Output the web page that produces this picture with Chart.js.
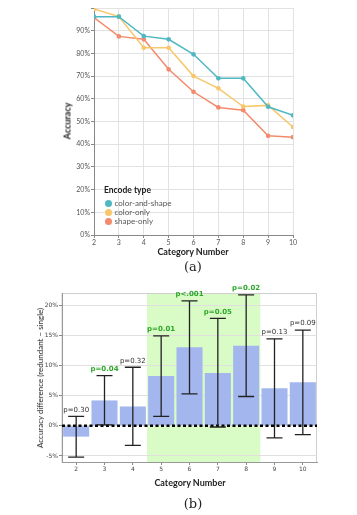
<!DOCTYPE html>
<html>
<head>
<meta charset="utf-8">
<script src="https://cdn.jsdelivr.net/npm/chart.js@4"></script>
<style>
  html, body { margin: 0; padding: 0; background: #fff; }
  #wrap { position: relative; width: 357px; height: 515px; overflow: hidden; }
  canvas { position: absolute; left: 0; }
  .t { position: absolute; white-space: nowrap; font-family: Lato, "Noto Sans", sans-serif; color: #222; }
  .bold { font-weight: bold; }
  .rot { transform: translate(-50%, -50%) rotate(-90deg); }
  .ctr { transform: translate(-50%, -50%); }
  .cap { font-family: "DejaVu Serif", "Liberation Serif", serif; font-size: 13px; color: #222; }
  .lg { position: absolute; font-family: Lato, "Noto Sans", sans-serif; font-size: 8px; color: #555; white-space: nowrap; }
  .dot { display: inline-block; width: 7px; height: 7px; border-radius: 50%; vertical-align: -1px; margin-right: 3px; }
</style>
</head>
<body>
<div id="wrap">
  <canvas id="topChart" width="357" height="260" style="top:0"></canvas>
  <canvas id="botChart" width="357" height="200" style="top:280px"></canvas>

  <div class="t bold rot" style="left:67px; top:121px; font-size:9px;">Accuracy</div>
  <div class="t bold ctr" style="left:193px; top:251px; font-size:9px;">Category Number</div>
  <div class="t cap ctr" style="left:193px; top:266px;">(a)</div>

  <div id="legend"></div>

  <div class="t rot" style="left:40px; top:378px; font-size:8px;">Accuracy difference (redundant − single)</div>
  <div class="t bold ctr" style="left:190px; top:482px; font-size:9px;">Category Number</div>
  <div class="t cap ctr" style="left:193px; top:503px;">(b)</div>
</div>
<script>
// ---- (a) accuracy by category number ----
const categories = [2, 3, 4, 5, 6, 7, 8, 9, 10];
const colorAndShape = [96.2, 96.2, 87.6, 86.2, 79.6, 69.0, 69.0, 56.5, 52.7];
const colorOnly = [99.6, 96.2, 82.5, 82.5, 70.0, 64.6, 56.6, 57.1, 47.6];
const shapeOnly = [95.8, 87.5, 86.2, 73.0, 63.1, 56.2, 55.0, 43.7, 43.1];
const seriesNames = ["color-and-shape", "color-only", "shape-only"];
const seriesColors = ["#4fb8c3", "#f8c76b", "#f48a6c"];

// ---- (b) accuracy difference ----
const diffLabels = ["2", "3", "4", "5", "6", "7", "8", "9", "10"];
const diffValues = [-1.8, 4.2, 3.2, 8.25, 13.0, 8.75, 13.25, 6.2, 7.2];
const errLow = [-5.2, 0.15, -3.25, 1.55, 5.3, -0.2, 4.85, -2.0, -1.45];
const errHigh = [1.55, 8.3, 9.7, 14.9, 20.7, 17.8, 21.7, 14.4, 15.85];
const pLabels = ["p=0.30", "p=0.04", "p=0.32", "p=0.01", "p<.001", "p=0.05", "p=0.02", "p=0.13", "p=0.09"];
const pSignificant = [false, true, false, true, true, true, true, false, false];
const highlightRange = ["5", "8"];
const diffTicks = [-5, 0, 5, 10, 15, 20];

const tickFont = { family: "Lato, 'Noto Sans', sans-serif", size: 7 };

// legend (inside plot a)
const legend = document.getElementById("legend");
legend.innerHTML = '<div class="lg" style="left:104px; top:185px; font-size:8.5px; font-weight:bold; color:#222;">Encode type</div>' +
  seriesNames.map((n, i) =>
    `<div class="lg" style="left:104.5px; top:${197.5 + i * 9}px;"><span class="dot" style="background:${seriesColors[i]}"></span>${n}</div>`
  ).join("");

const lineData = [colorAndShape, colorOnly, shapeOnly];

new Chart(document.getElementById("topChart"), {
  type: "line",
  data: {
    datasets: lineData.map((vals, i) => ({
      label: seriesNames[i],
      data: categories.map((c, j) => ({ x: c, y: vals[j] })),
      borderColor: seriesColors[i],
      backgroundColor: seriesColors[i],
      borderWidth: 1.5,
      pointRadius: 1.6,
      pointHoverRadius: 1.6,
      tension: 0,
    })),
  },
  options: {
    responsive: false,
    animation: false,
    layout: { padding: { top: 8, right: 64, left: 0, bottom: 0 } },
    plugins: { legend: { display: false }, tooltip: { enabled: false } },
    scales: {
      x: {
        type: "linear",
        min: 2,
        max: 10,
        ticks: { stepSize: 1, color: "#555", font: tickFont, padding: 1, maxRotation: 0 },
        grid: { color: "#e2e2e2", tickLength: 3, tickColor: "#888" },
        border: { color: "#888" },
        afterFit: (s) => { s.height = 25; },
      },
      y: {
        min: 0,
        max: 100,
        ticks: { stepSize: 10, color: "#555", font: tickFont, padding: 1, callback: (v) => (v === 100 ? "" : v + "%") },
        grid: { color: "#e2e2e2", tickLength: 3, tickColor: "#888" },
        border: { color: "#888" },
        afterFit: (s) => { s.width = 94; },
      },
    },
  },
});

// background highlight + border box (drawn before the grid)
const highlightPlugin = {
  id: "highlight",
  beforeDraw(chart) {
    const { ctx, chartArea, scales } = chart;
    const x = scales.x;
    const band = x.getPixelForValue(1) - x.getPixelForValue(0);
    const i0 = diffLabels.indexOf(highlightRange[0]);
    const i1 = diffLabels.indexOf(highlightRange[1]);
    const left = x.getPixelForValue(i0) - band / 2;
    const right = x.getPixelForValue(i1) + band / 2;
    ctx.save();
    ctx.fillStyle = "#d9fbc6";
    ctx.fillRect(left, chartArea.top, right - left, chartArea.bottom - chartArea.top);
    ctx.strokeStyle = "#cfcfcf";
    ctx.lineWidth = 1;
    ctx.strokeRect(chartArea.left, chartArea.top + 0.5, chartArea.right - chartArea.left - 0.5, chartArea.bottom - chartArea.top);
    ctx.restore();
  },
};

const errorPlugin = {
  id: "errorbars",
  afterDatasetsDraw(chart) {
    const { ctx, chartArea, scales } = chart;
    const x = scales.x, y = scales.y;
    ctx.save();
    // zero line
    const y0 = y.getPixelForValue(0);
    ctx.strokeStyle = "#000";
    ctx.lineWidth = 2.5;
    ctx.setLineDash([3, 2.5]);
    ctx.beginPath();
    ctx.moveTo(chartArea.left, y0);
    ctx.lineTo(chartArea.right, y0);
    ctx.stroke();
    ctx.setLineDash([]);

    ctx.strokeStyle = "#222";
    ctx.lineWidth = 1.3;
    ctx.textAlign = "center";
    ctx.textBaseline = "bottom";
    diffLabels.forEach((lab, i) => {
      const px = x.getPixelForValue(i);
      const lo = y.getPixelForValue(errLow[i]);
      const hi = y.getPixelForValue(errHigh[i]);
      ctx.beginPath();
      ctx.moveTo(px, lo); ctx.lineTo(px, hi);
      ctx.moveTo(px - 8, lo); ctx.lineTo(px + 8, lo);
      ctx.moveTo(px - 8, hi); ctx.lineTo(px + 8, hi);
      ctx.stroke();
      if (pSignificant[i]) {
        ctx.fillStyle = "#2da82a";
        ctx.font = "bold 7px 'DejaVu Sans', sans-serif";
      } else {
        ctx.fillStyle = "#333";
        ctx.font = "7px 'DejaVu Sans', sans-serif";
      }
      ctx.fillText(pLabels[i], px, hi - 3);
    });
    ctx.restore();
  },
};

new Chart(document.getElementById("botChart"), {
  type: "bar",
  data: {
    labels: diffLabels,
    datasets: [{
      data: diffValues,
      backgroundColor: "#a3b7ee",
      borderWidth: 0,
      barPercentage: 0.92,
      categoryPercentage: 1,
    }],
  },
  options: {
    responsive: false,
    animation: false,
    layout: { padding: { top: 13, right: 40, left: 0, bottom: 0 } },
    plugins: { legend: { display: false }, tooltip: { enabled: false } },
    scales: {
      x: {
        ticks: { color: "#444", font: { family: "'DejaVu Sans', sans-serif", size: 6 }, padding: 1, maxRotation: 0 },
        grid: { display: true, drawOnChartArea: false, tickLength: 3, tickColor: "#888", offset: false },
        border: { color: "#999" },
        afterFit: (s) => { s.height = 18; },
      },
      y: {
        min: -6,
        max: 22,
        afterBuildTicks: (s) => { s.ticks = diffTicks.map((v) => ({ value: v })); },
        ticks: { color: "#444", font: { family: "'DejaVu Sans', sans-serif", size: 6 }, padding: 1, callback: (v) => v + "%" },
        grid: { color: "#e0e0e0", tickLength: 3, tickColor: "#888" },
        border: { color: "#999" },
        afterFit: (s) => { s.width = 62; },
      },
    },
  },
  plugins: [highlightPlugin, errorPlugin],
});
</script>
</body>
</html>
